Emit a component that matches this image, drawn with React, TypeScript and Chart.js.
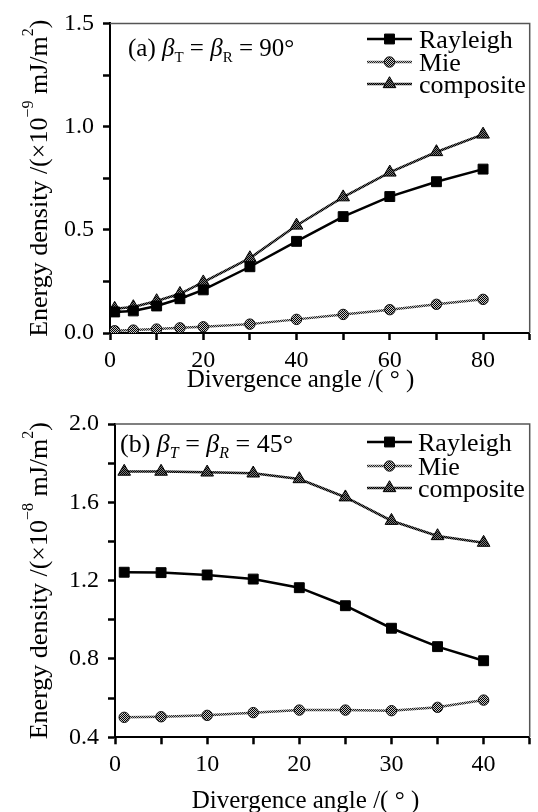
import React, { useEffect, useRef } from 'react';
import { Chart, registerables, PointElement } from 'chart.js';

Chart.register(...registerables);

const SERIF = '"Liberation Serif", "Times New Roman", serif';

// ---------- data ----------
const seriesNames = ['Rayleigh', 'Mie', 'composite'];

const anglesA = [1, 5, 10, 15, 20, 30, 40, 50, 60, 70, 80];
const rayleighA = [0.102, 0.107, 0.131, 0.166, 0.209, 0.321, 0.444, 0.564, 0.661, 0.733, 0.794];
const mieA = [0.011, 0.014, 0.019, 0.025, 0.03, 0.043, 0.066, 0.09, 0.113, 0.139, 0.163];
const compositeA = [0.118, 0.126, 0.155, 0.19, 0.246, 0.363, 0.521, 0.658, 0.778, 0.877, 0.962];

const anglesB = [1, 5, 10, 15, 20, 25, 30, 35, 40];
const rayleighB = [1.243, 1.241, 1.229, 1.208, 1.164, 1.072, 0.957, 0.863, 0.791];
const mieB = [0.502, 0.505, 0.512, 0.526, 0.539, 0.539, 0.536, 0.553, 0.59];
const compositeB = [1.757, 1.757, 1.753, 1.748, 1.719, 1.626, 1.506, 1.428, 1.394];

const xTicksA = [0, 10, 20, 30, 40, 50, 60, 70, 80, 90];
const xLabelsA = [0, 20, 40, 60, 80];
const yTicksA = [0, 0.25, 0.5, 0.75, 1.0, 1.25, 1.5];
const yLabelsA = [0, 0.5, 1.0, 1.5];

const xTicksB = [0, 5, 10, 15, 20, 25, 30, 35, 40, 45];
const xLabelsB = [0, 10, 20, 30, 40];
const yTicksB = [0.4, 0.6, 0.8, 1.0, 1.2, 1.4, 1.6, 1.8, 2.0];
const yLabelsB = [0.4, 0.8, 1.2, 1.6, 2.0];

const xTitle = 'Divergence angle /( ° )';

type Seg = { t: string; size: number; italic?: boolean; dy?: number };

const yTitleA: Seg[] = [
  { t: 'Energy density /(×10', size: 26 },
  { t: '−9', size: 16, dy: -14 },
  { t: ' mJ/m', size: 26 },
  { t: '2', size: 16, dy: -14 },
  { t: ')', size: 26 },
];
const yTitleB: Seg[] = [
  { t: 'Energy density /(×10', size: 26 },
  { t: '−8', size: 16, dy: -14 },
  { t: ' mJ/m', size: 26 },
  { t: '2', size: 16, dy: -14 },
  { t: ')', size: 26 },
];

const labelA: Seg[] = [
  { t: '(a) ', size: 25 },
  { t: 'β', size: 25, italic: true },
  { t: 'T', size: 15, dy: 6 },
  { t: ' = ', size: 25 },
  { t: 'β', size: 25, italic: true },
  { t: 'R', size: 15, dy: 6 },
  { t: ' = ', size: 25 },
  { t: '90°', size: 25 },
];
const labelB: Seg[] = [
  { t: '(b) ', size: 26 },
  { t: 'β', size: 26, italic: true },
  { t: 'T', size: 16, italic: true, dy: 6 },
  { t: ' = ', size: 26 },
  { t: 'β', size: 26, italic: true },
  { t: 'R', size: 16, italic: true, dy: 6 },
  { t: ' = ', size: 26 },
  { t: '45°', size: 26 },
];

// ---------- helpers ----------
function makePattern(a: string, b: string) {
  const c = document.createElement('canvas');
  c.width = 2;
  c.height = 2;
  const g = c.getContext('2d')!;
  g.fillStyle = b;
  g.fillRect(0, 0, 2, 2);
  g.fillStyle = a;
  g.fillRect(0, 0, 1, 1);
  g.fillRect(1, 1, 1, 1);
  return g.createPattern(c, 'repeat')!;
}

function segFont(s: Seg) {
  return `${s.italic ? 'italic ' : ''}${s.size}px ${SERIF}`;
}
function segsWidth(ctx: CanvasRenderingContext2D, segs: Seg[]) {
  let w = 0;
  for (const s of segs) {
    ctx.font = segFont(s);
    w += ctx.measureText(s.t).width;
  }
  return w;
}
function drawSegs(ctx: CanvasRenderingContext2D, x: number, y: number, segs: Seg[]) {
  let cx = x;
  ctx.textAlign = 'left';
  ctx.textBaseline = 'alphabetic';
  for (const s of segs) {
    ctx.font = segFont(s);
    ctx.fillText(s.t, cx, y + (s.dy || 0));
    cx += ctx.measureText(s.t).width;
  }
}

type Panel = {
  x: number[];
  series: number[][];
  xMin: number; xMax: number; xTicks: number[]; xLabels: number[];
  yMin: number; yMax: number; yTicks: number[]; yLabels: number[];
  padTop: number; padRight: number; yAxisW: number; xAxisH: number;
  legendX0: number; legendX1: number; legendTextX: number; legendY: number[];
  label: Seg[]; labelX: number; labelY: number;
  yTitle: Seg[]; yTitleX: number; xTitleCX: number; xTitleY: number;
};

const panelA: Panel = {
  x: anglesA, series: [rayleighA, mieA, compositeA],
  xMin: 0, xMax: 90, xTicks: xTicksA, xLabels: xLabelsA,
  yMin: 0, yMax: 1.5, yTicks: yTicksA, yLabels: yLabelsA,
  padTop: 20, padRight: 3, yAxisW: 110, xAxisH: 67,
  legendX0: 367, legendX1: 412, legendTextX: 419, legendY: [39, 62, 84],
  label: labelA, labelX: 128, labelY: 56,
  yTitle: yTitleA, yTitleX: 47, xTitleCX: 300.5, xTitleY: 386.7,
};

const panelB: Panel = {
  x: anglesB, series: [rayleighB, mieB, compositeB],
  xMin: 0, xMax: 45, xTicks: xTicksB, xLabels: xLabelsB,
  yMin: 0.4, yMax: 2.0, yTicks: yTicksB, yLabels: yLabelsB,
  padTop: 24, padRight: 5.3, yAxisW: 115, xAxisH: 74.7,
  legendX0: 367, legendX1: 412, legendTextX: 418, legendY: [42, 66, 88],
  label: labelB, labelX: 120, labelY: 52,
  yTitle: yTitleB, yTitleX: 47, xTitleCX: 305.5, xTitleY: 408.3,
};

function buildChart(canvas: HTMLCanvasElement, p: Panel) {
  const pMieFill = makePattern('#000', '#c8c8c8');
  const pCompFill = makePattern('#000', '#7a7a7a');
  const pMieLine = makePattern('#222', '#b8b8b8');
  const pCompLine = makePattern('#000', '#6a6a6a');

  const styles = [
    { borderColor: '#000', pointStyle: 'rect', pointRadius: 7, pointBackgroundColor: '#000', pointBorderColor: '#000' },
    { borderColor: pMieLine, pointStyle: 'circle', pointRadius: 5.2, pointBackgroundColor: pMieFill, pointBorderColor: '#111' },
    { borderColor: pCompLine, pointStyle: 'triangle', pointRadius: 7.3, pointBackgroundColor: pCompFill, pointBorderColor: '#000' },
  ];

  const datasets = p.series.map((vals, i) => ({
    label: seriesNames[i],
    data: p.x.map((x, j) => ({ x, y: vals[j] })),
    borderWidth: 2.5,
    pointBorderWidth: 1,
    tension: 0,
    ...styles[i],
  }));

  const decor = {
    id: 'decor',
    afterDraw(chart: any) {
      const { ctx, chartArea: a } = chart;
      ctx.save();
      // frame (top & right)
      ctx.strokeStyle = '#555';
      ctx.lineWidth = 1.5;
      ctx.beginPath();
      ctx.moveTo(a.left, a.top);
      ctx.lineTo(a.right, a.top);
      ctx.lineTo(a.right, a.bottom);
      ctx.stroke();

      // legend
      chart.data.datasets.forEach((ds: any, i: number) => {
        const y = p.legendY[i];
        ctx.strokeStyle = ds.borderColor;
        ctx.lineWidth = ds.borderWidth;
        ctx.beginPath();
        ctx.moveTo(p.legendX0, y);
        ctx.lineTo(p.legendX1, y);
        ctx.stroke();
        const meta = chart.getDatasetMeta(i);
        const pt: any = new (PointElement as any)({
          x: (p.legendX0 + p.legendX1) / 2,
          y,
          options: meta.data[0].options,
        });
        pt.draw(ctx);
        ctx.fillStyle = '#000';
        ctx.font = `26px ${SERIF}`;
        ctx.textAlign = 'left';
        ctx.textBaseline = 'alphabetic';
        ctx.fillText(ds.label, p.legendTextX, y + 8.5);
      });

      // panel label
      ctx.fillStyle = '#000';
      drawSegs(ctx, p.labelX, p.labelY, p.label);

      // x title
      ctx.font = `25px ${SERIF}`;
      ctx.textAlign = 'center';
      ctx.textBaseline = 'alphabetic';
      ctx.fillText(xTitle, p.xTitleCX, p.xTitleY);

      // y title
      const cy = (a.top + a.bottom) / 2;
      const w = segsWidth(ctx, p.yTitle);
      ctx.translate(p.yTitleX, cy);
      ctx.rotate(-Math.PI / 2);
      drawSegs(ctx, -w / 2, 0, p.yTitle);
      ctx.restore();
    },
  };

  const tickFont = { family: SERIF, size: 24 };

  return new Chart(canvas, {
    type: 'line',
    data: { datasets } as any,
    options: {
      responsive: false,
      animation: false,
      devicePixelRatio: 1,
      events: [],
      layout: { padding: { left: 0, right: p.padRight, top: p.padTop, bottom: 0 } },
      plugins: { legend: { display: false }, tooltip: { enabled: false } },
      scales: {
        x: {
          type: 'linear',
          min: p.xMin,
          max: p.xMax,
          afterFit: (s: any) => { s.height = p.xAxisH; },
          afterBuildTicks: (s: any) => { s.ticks = p.xTicks.map((v) => ({ value: v })); },
          ticks: {
            autoSkip: false,
            maxRotation: 0,
            color: '#000',
            font: tickFont,
            padding: 6,
            callback: (v: any) => (p.xLabels.includes(v) ? String(v) : ''),
          },
          grid: { drawOnChartArea: false, drawTicks: true, tickLength: 7, tickColor: '#000', tickWidth: 2.5 },
          border: { display: true, color: '#000', width: 2 },
        },
        y: {
          type: 'linear',
          min: p.yMin,
          max: p.yMax,
          afterFit: (s: any) => { s.width = p.yAxisW; },
          afterBuildTicks: (s: any) => { s.ticks = p.yTicks.map((v) => ({ value: v })); },
          ticks: {
            autoSkip: false,
            color: '#000',
            font: tickFont,
            padding: 9,
            callback: (v: any) => (p.yLabels.includes(v) ? Number(v).toFixed(1) : ''),
          },
          grid: { drawOnChartArea: false, drawTicks: true, tickLength: 7, tickColor: '#000', tickWidth: 2.5 },
          border: { display: true, color: '#000', width: 2 },
        },
      },
    } as any,
    plugins: [decor],
  });
}

export default function App() {
  const topRef = useRef<HTMLCanvasElement>(null);
  const botRef = useRef<HTMLCanvasElement>(null);
  useEffect(() => {
    const c1 = buildChart(topRef.current!, panelA);
    const c2 = buildChart(botRef.current!, panelB);
    return () => {
      c1.destroy();
      c2.destroy();
    };
  }, []);
  return (
    <div style={{ position: 'absolute', left: 0, top: 0, width: 538, height: 812, background: '#fff' }}>
      <canvas ref={topRef} width={538} height={400} style={{ position: 'absolute', left: 0, top: 0 }} />
      <canvas ref={botRef} width={538} height={412} style={{ position: 'absolute', left: 0, top: 400 }} />
    </div>
  );
}
